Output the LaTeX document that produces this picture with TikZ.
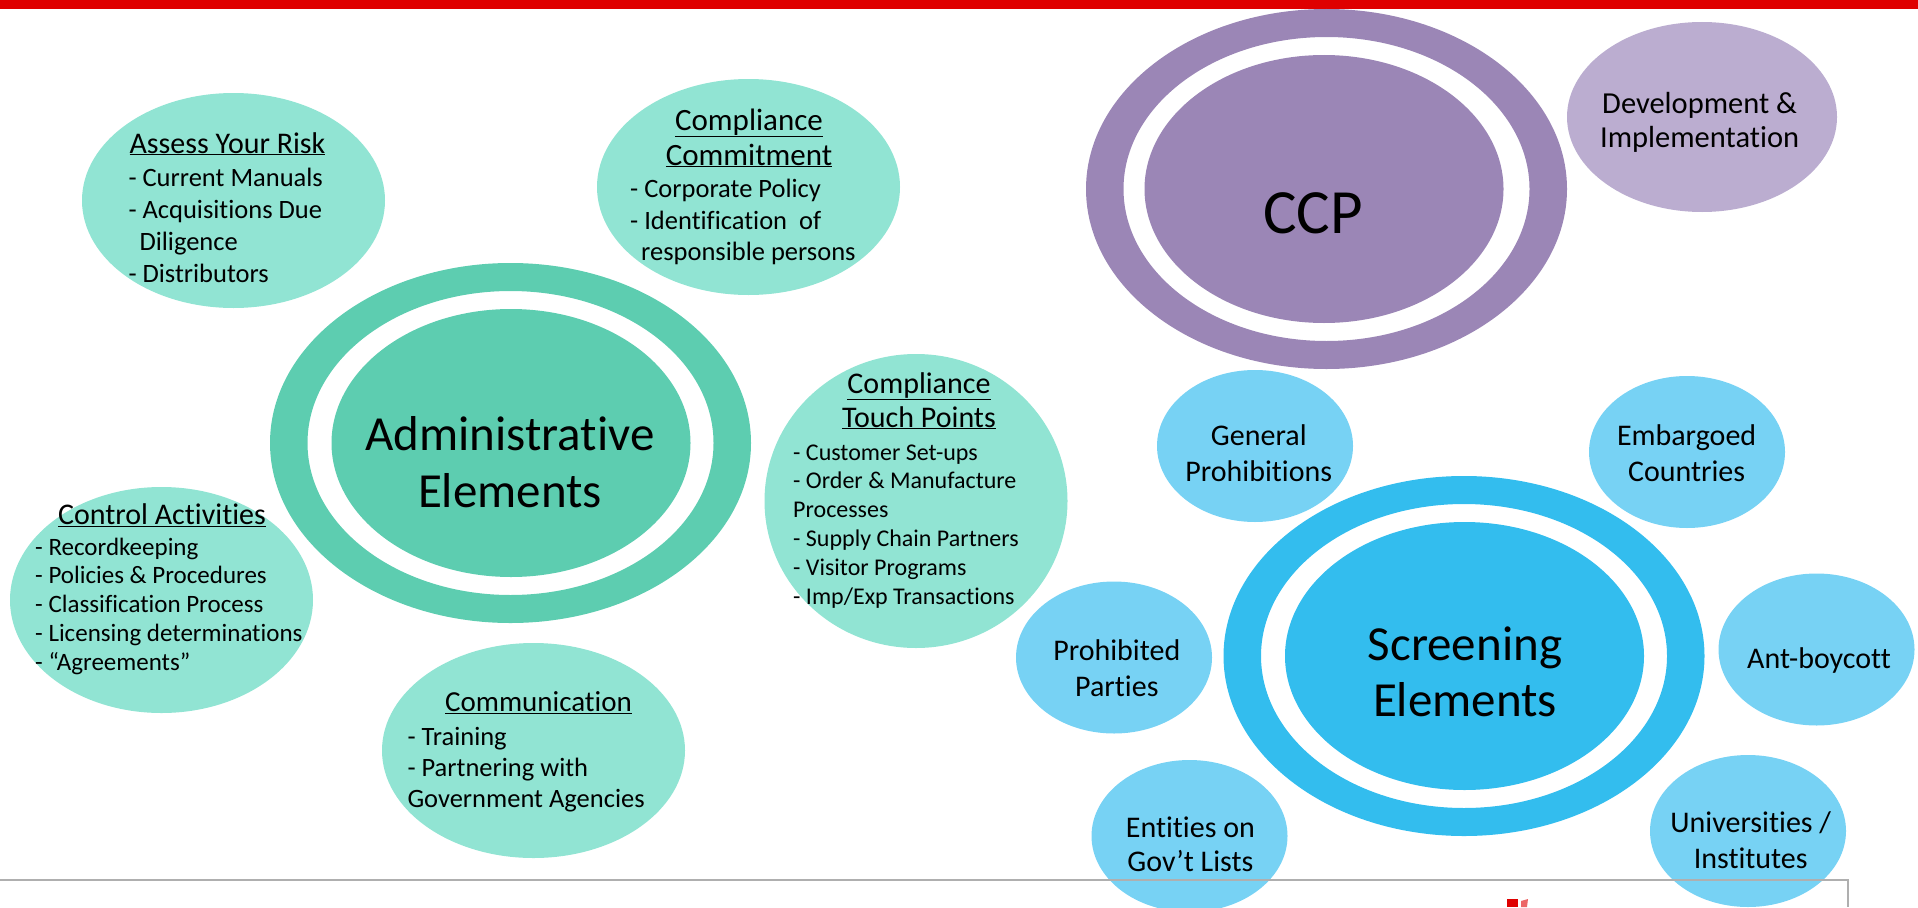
\documentclass[tikz,border=0pt]{standalone}
\usepackage{fontspec}
\setmainfont{Carlito}[Ligatures={TeX,NoCommon}]
\usetikzlibrary{shapes.geometric}

\definecolor{vermelho}{RGB}{223,0,0}
\definecolor{verdeesc}{RGB}{93,205,176}
\definecolor{verdecla}{RGB}{145,228,211}
\definecolor{roxoesc}{RGB}{155,134,182}
\definecolor{roxocla}{RGB}{187,173,208}
\definecolor{azulesc}{RGB}{51,189,238}
\definecolor{azulcla}{RGB}{119,210,244}
\definecolor{cinza}{RGB}{175,175,175}

\begin{document}
\begin{tikzpicture}[
		x=1pt, y=-1pt,
		elipse/.style={
			ellipse,
			inner sep=0pt,
			outer sep=0pt
		},
		bolhaverde/.style={
			elipse,
			fill=verdecla,
			minimum width=303pt
		},
		bolhaazul/.style={
			elipse,
			fill=azulcla,
			minimum width=196pt,
			minimum height=152pt
		},
		centro/.style={
			elipse,
			minimum width=359pt,
			minimum height=268pt
		},
		titulo/.style={
			anchor=base,
			inner sep=0pt,
			text width=320pt,
			align=flush center,
			font=\fontsize{30}{35}\selectfont
		},
		lista/.style={
			anchor=base west,
			inner sep=0pt,
			text width=300pt,
			align=flush left,
			font=\fontsize{26}{31}\selectfont
		},
		rotulo/.style={
			anchor=base,
			inner sep=0pt,
			text width=240pt,
			align=flush center,
			font=\fontsize{30}{35.5}\selectfont
		},
		grande/.style={
			anchor=base,
			inner sep=0pt,
			text width=360pt,
			align=flush center,
			font=\fontsize{49}{57}\selectfont
		}
		]
		
		\useasboundingbox (0,0) rectangle (1918,907);
		\fill[vermelho] (0,0) rectangle (1918,9);
		
		%Aneis
		\fill[verdeesc, even odd rule] (510.5,443) ellipse [x radius=240.5, y radius=180]
			(510.5,443) ellipse [x radius=203, y radius=152];
		\fill[roxoesc, even odd rule] (1326.5,189) ellipse [x radius=240.5, y radius=180]
			(1326.5,189) ellipse [x radius=203, y radius=152];
		\fill[azulesc, even odd rule] (1464,656) ellipse [x radius=240.5, y radius=180]
			(1464,656) ellipse [x radius=203, y radius=152];
		
		\node[centro, fill=verdeesc] (adm) at (511,443) {};
		\node[centro, fill=roxoesc] (ccp) at (1324,189) {};
		\node[centro, fill=azulesc] (scr) at (1464.5,656) {};
		
		\node[grande] (admtxt) at (510,450) {Administrative\\Elements};
		\node[grande, font=\fontsize{63}{70}\selectfont] (ccptxt) at (1313,233) {CCP};
		\node[grande, font=\fontsize{49}{56}\selectfont] (scrtxt) at (1465,660) {Screening\\Elements};
		
		%Bolhas verdes
		\node[bolhaverde, minimum height=215pt] (risco) at (233.5,200.5) {};
		\node[bolhaverde, minimum height=216pt] (compr) at (748.5,187) {};
		\node[bolhaverde, minimum height=294pt] (toque) at (916,501) {};
		\node[bolhaverde, minimum height=226pt] (ctrl) at (161.5,600) {};
		\node[bolhaverde, minimum height=215pt] (comun) at (533.5,750.5) {};
		
		\node[titulo] (riscotit) at (227.5,153) {\underline{Assess Your Risk}};
		\node[lista, font=\fontsize{26.5}{32}\selectfont] (riscolis) at (128.3,186.5)
			{- Current Manuals\\- Acquisitions Due\\\hspace*{11pt}Diligence\\- Distributors};
		
		\node[titulo, font=\fontsize{31}{35}\selectfont] (comprtit) at (749,130)
			{\underline{Compliance}\\\underline{Commitment}};
		\node[lista, font=\fontsize{26.5}{31.5}\selectfont] (comprlis) at (630,197.7)
			{- Corporate Policy\\- Identification~~of\\\hspace*{11pt}responsible persons};
		
		\node[titulo, font=\fontsize{30}{34}\selectfont] (toquetit) at (919,393)
			{\underline{Compliance}\\\underline{Touch Points}};
		\node[lista, font=\fontsize{24}{28.8}\selectfont] (toquelis) at (793,460)
			{- Customer Set-ups\\- Order \& Manufacture\\Processes\\- Supply Chain Partners\\- Visitor Programs\\- Imp/Exp Transactions};
		
		\node[titulo] (ctrltit) at (162,524.3) {\underline{Control Activities}};
		\node[lista, font=\fontsize{25}{28.8}\selectfont] (ctrllis) at (35,555)
			{- Recordkeeping\\- Policies \& Procedures\\- Classification Process\\- Licensing determinations\\- “Agreements”};
		
		\node[titulo, font=\fontsize{29}{34}\selectfont] (comuntit) at (538.5,711.7) {\underline{Communication}};
		\node[lista, font=\fontsize{26.5}{31}\selectfont] (comunlis) at (407.3,745)
			{- Training\\- Partnering with\\Government Agencies};
		
		%Bolhas roxa e azuis
		\node[elipse, fill=roxocla, minimum width=270pt, minimum height=190pt] (desenv) at (1702,117) {};
		\node[rotulo, font=\fontsize{30.5}{34}\selectfont] (desenvtxt) at (1699.6,113) {Development \&\\Implementation};
		
		\node[bolhaazul] (geral) at (1255,446) {};
		\node[bolhaazul] (embarg) at (1687,452) {};
		\node[bolhaazul] (proib) at (1114,657.5) {};
		\node[bolhaazul] (boic) at (1816.5,649.5) {};
		\node[bolhaazul] (entid) at (1189.5,836) {};
		\node[bolhaazul] (univ) at (1748,831) {};
		
		\node[rotulo] (geraltxt) at (1258.8,445.5) {General\\Prohibitions};
		\node[rotulo] (embargtxt) at (1686.6,445.5) {Embargoed\\Countries};
		\node[rotulo] (proibtxt) at (1116.8,660.8) {Prohibited\\Parties};
		\node[rotulo] (boictxt) at (1819,668.8) {Ant-boycott};
		\node[rotulo, font=\fontsize{30}{34}\selectfont] (entidtxt) at (1190.4,837) {Entities on\\Gov’t Lists};
		\node[rotulo] (univtxt) at (1750.7,832.8) {Universities /\\Institutes};
		
		%Rodape
		\draw[cinza, line width=2pt] (0,879.5) -- (1848,879.5) -- (1848,907);
		\fill[vermelho] (1507,899) rectangle (1518,907);
		\fill[vermelho!60] (1521,901) -- (1528,899) -- (1527,907) -- (1521,907) -- cycle;
		
	\end{tikzpicture}
\end{document}
